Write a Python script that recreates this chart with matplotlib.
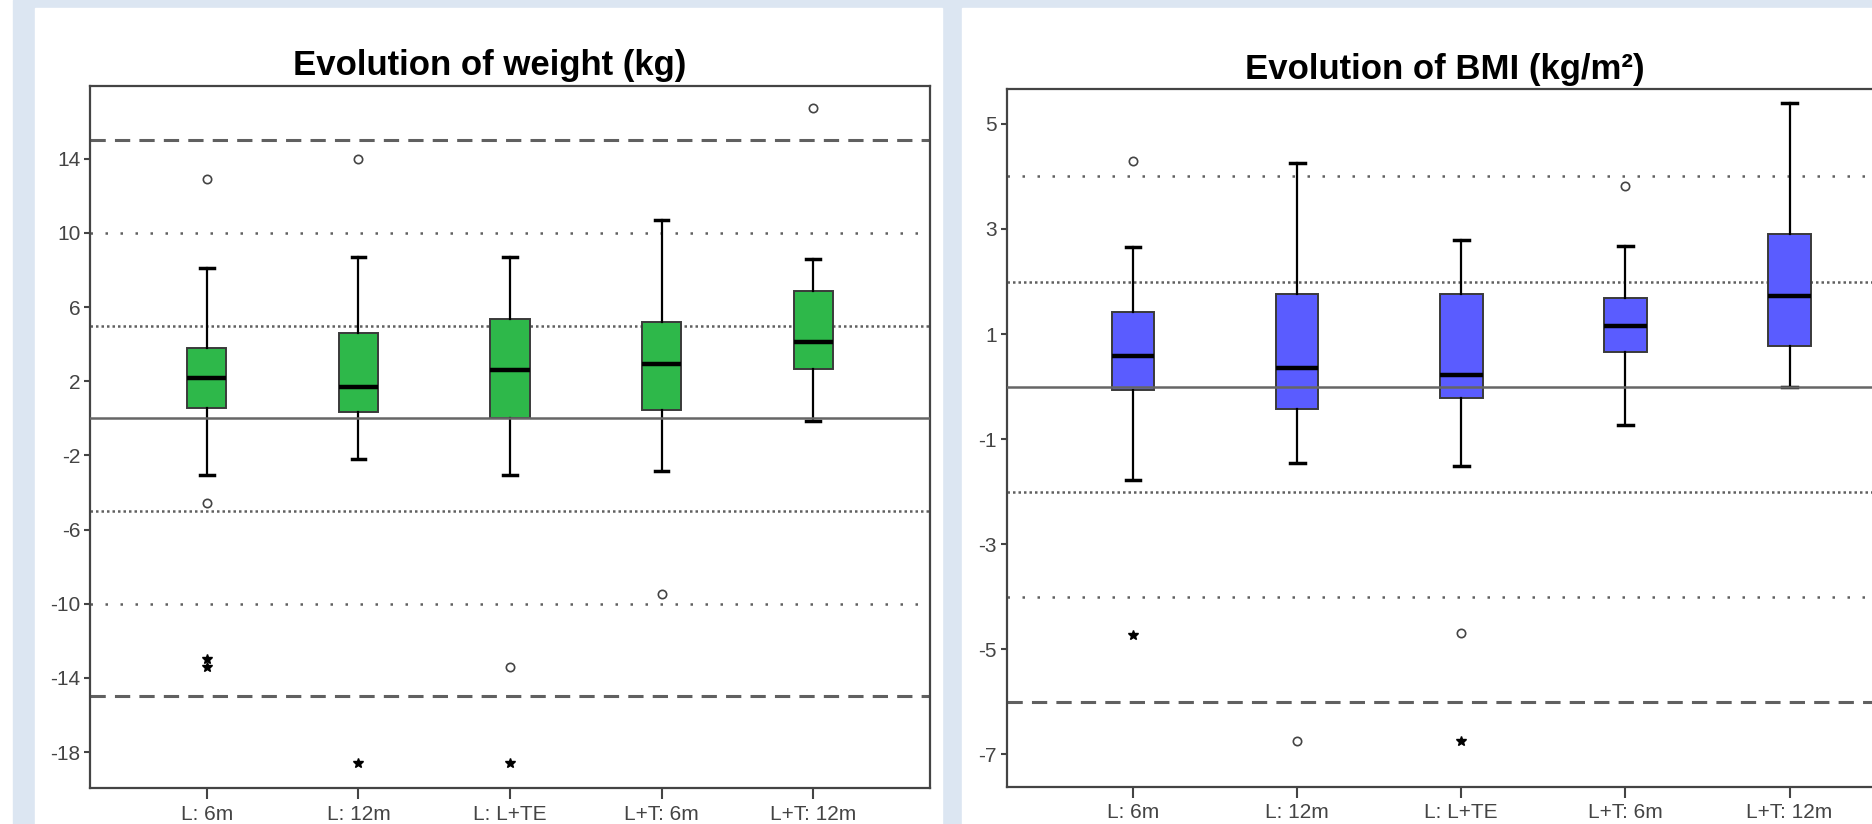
import matplotlib.pyplot as plt
from matplotlib.patches import Rectangle

plt.rcParams["font.family"] = ["Liberation Sans", "DejaVu Sans"]

cats = ["L: 6m", "L: 12m", "L: L+TE", "L+T: 6m", "L+T: 12m"]

# weight change (kg)
w_lo = [-3.07, -2.17, -3.07, -2.85, -0.14]
w_q1 = [0.58, 0.35, 0.0, 0.47, 2.68]
w_med = [2.18, 1.68, 2.59, 2.93, 4.09]
w_q3 = [3.80, 4.60, 5.38, 5.20, 6.87]
w_hi = [8.11, 8.70, 8.70, 10.72, 8.61]
w_circles = [[12.89, -4.56], [14.0], [-13.40], [-9.48], [16.73]]
w_stars = [[-12.97, -13.40], [-18.61], [-18.61], [], []]
w_ticks = [14, 10, 6, 2, -2, -6, -10, -14, -18]

# BMI change (kg/m2)
b_lo = [-1.78, -1.46, -1.51, -0.74, 0.0]
b_q1 = [-0.07, -0.43, -0.21, 0.66, 0.77]
b_med = [0.59, 0.35, 0.22, 1.15, 1.73]
b_q3 = [1.41, 1.76, 1.76, 1.68, 2.90]
b_hi = [2.66, 4.26, 2.79, 2.68, 5.40]
b_circles = [[4.30], [-6.75], [-4.70], [3.81], []]
b_stars = [[-4.73], [], [-6.75], [], []]
b_ticks = [5, 3, 1, -1, -3, -5, -7]

BG = "#dce6f2"
GRID = "#606060"


def draw_panel(ax, lo, q1, med, q3, hi, circles, stars, color, ticks, ylim, refs):
    stats = []
    for i in range(len(cats)):
        stats.append({"whislo": lo[i], "q1": q1[i], "med": med[i],
                      "q3": q3[i], "whishi": hi[i], "fliers": []})
    pos = list(range(1, len(cats) + 1))

    dense, sparse, dashed = refs
    for v in (dense, -dense):
        ax.axhline(v, color=GRID, lw=1.8, ls=(0, (1, 1.2)), zorder=1)
    for v in (sparse, -sparse):
        ax.axhline(v, color=GRID, lw=1.8, ls=(0, (1, 5)), zorder=1)
    for v in (dashed, -dashed):
        ax.axhline(v, color=GRID, lw=2.2, ls=(0, (5, 3)), zorder=1)

    ax.bxp(stats, positions=pos, widths=0.26, capwidths=0.09,
           patch_artist=True, showfliers=False,
           boxprops=dict(facecolor=color, edgecolor="#3a3a3a", lw=1.4),
           medianprops=dict(color="black", lw=3.2),
           whiskerprops=dict(color="black", lw=1.6),
           capprops=dict(color="black", lw=2.5), zorder=2)

    ax.axhline(0, color="#666666", lw=1.8, zorder=3)

    for i, vals in enumerate(circles):
        ax.plot([pos[i]] * len(vals), vals, "o", ms=6, mfc="white",
                mec="#444444", mew=1.2, zorder=4)
    for i, vals in enumerate(stars):
        ax.plot([pos[i]] * len(vals), vals, "*", ms=7, color="black", zorder=4)

    ax.set_xlim(0.23, 5.77)
    ax.set_ylim(*ylim)
    ax.set_yticks(ticks)
    ax.set_yticklabels([str(t) for t in ticks])
    ax.set_xticks(pos)
    ax.set_xticklabels(cats)
    ax.tick_params(axis="y", length=4, width=1.5, pad=3, labelsize=15,
                   labelcolor="#444444", color="#444444")
    ax.tick_params(axis="x", length=8, width=1.5, pad=4, labelsize=15,
                   labelcolor="#444444", color="#444444")
    for s in ax.spines.values():
        s.set_linewidth(1.6)
        s.set_color("#444444")


fig = plt.figure(figsize=(18.72, 8.24), dpi=100)
fig.patches.append(Rectangle((13 / 1872, 0), 1 - 13 / 1872, 1,
                             transform=fig.transFigure, color=BG, zorder=-3))
fig.patches.append(Rectangle((35 / 1872, 0), 907 / 1872, 816 / 824,
                             transform=fig.transFigure, color="white", zorder=-2))
fig.patches.append(Rectangle((962 / 1872, 0), 910 / 1872, 816 / 824,
                             transform=fig.transFigure, color="white", zorder=-2))

ax1 = fig.add_axes([90 / 1872, 36 / 824, 840 / 1872, 702 / 824])
draw_panel(ax1, w_lo, w_q1, w_med, w_q3, w_hi, w_circles, w_stars,
           "#2eb84a", w_ticks, (-19.94, 17.92), (5, 10, 15))

ax2 = fig.add_axes([1006.6 / 1872, 37.3 / 824, 909.4 / 1872, 697.4 / 824])
draw_panel(ax2, b_lo, b_q1, b_med, b_q3, b_hi, b_circles, b_stars,
           "#5a5cff", b_ticks, (-7.62, 5.66), (2, 4, 6))

fig.text(489.5 / 1872, 1 - 75 / 824, "Evolution of weight (kg)", ha="center",
         va="baseline", fontsize=25, fontweight="bold")
fig.text(1445 / 1872, 1 - 79 / 824, "Evolution of BMI (kg/m²)", ha="center",
         va="baseline", fontsize=25, fontweight="bold")

fig.savefig("out.png", dpi=100)
